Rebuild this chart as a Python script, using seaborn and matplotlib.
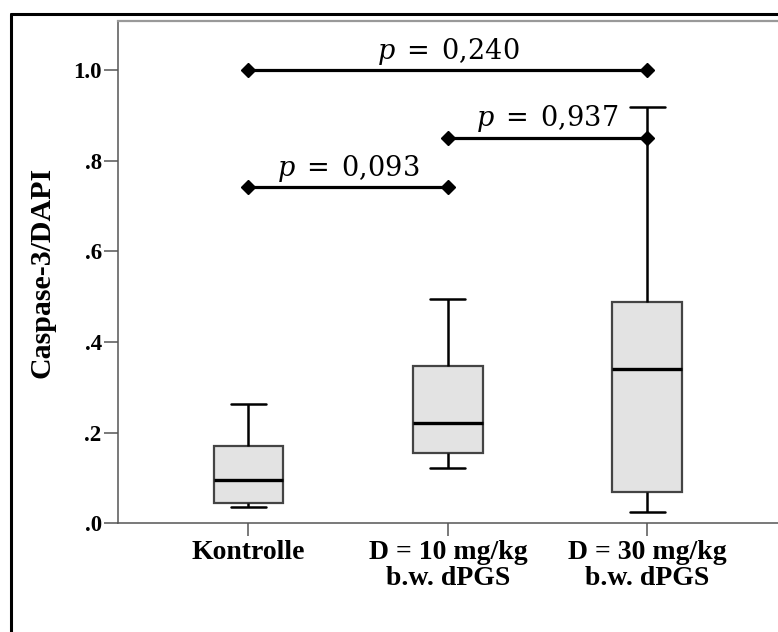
import matplotlib
matplotlib.use("Agg")
import matplotlib.pyplot as plt
import seaborn as sns
import pandas as pd
from matplotlib.lines import Line2D

# ---- data (five-number summaries) ----
groups = ["Kontrolle", "D = 10 mg/kg\nb.w. dPGS", "D = 30 mg/kg\nb.w. dPGS"]
whisker_low = [0.035, 0.122, 0.024]
q1 = [0.045, 0.156, 0.068]
median = [0.096, 0.222, 0.340]
q3 = [0.171, 0.347, 0.489]
whisker_high = [0.264, 0.495, 0.919]

# significance brackets: (group a, group b, height, p text)
bracket_a = [0, 1, 0]
bracket_b = [2, 2, 1]
bracket_y = [1.0, 0.851, 0.741]
bracket_p = ["0{,}240", "0{,}937", "0{,}093"]

yticks = [0.0, 0.2, 0.4, 0.6, 0.8, 1.0]
ytick_labels = [".0", ".2", ".4", ".6", ".8", "1.0"]

rows = []
for g, a, b, c, d, e in zip(groups, whisker_low, q1, median, q3, whisker_high):
    for v in (a, b, c, d, e):
        rows.append({"group": g, "value": v})
df = pd.DataFrame(rows)

sns.set_style("white")
plt.rcParams["mathtext.fontset"] = "dejavuserif"
plt.rcParams["text.color"] = "black"

fig = plt.figure(figsize=(7.78, 6.32), dpi=100)
L, R, T, B = 117.7, 778.0, 20.7, 523.3
W, H = 778.0, 632.0
ax = fig.add_axes([L / W, 1 - B / H, (R - L) / W, (B - T) / H])

sns.boxplot(data=df, x="group", y="value", order=groups, ax=ax,
            width=0.35, whis=(0, 100), color="#e3e3e3", linecolor="#444444",
            linewidth=1.6, saturation=1,
            medianprops=dict(color="black", linewidth=2.4),
            whiskerprops=dict(color="black", linewidth=1.8),
            capprops=dict(color="black", linewidth=1.8))

ax.set_xlim(-0.656, 2.656)
ax.set_ylim(0, (B - T) / 453.3)

for a, b, y, p in zip(bracket_a, bracket_b, bracket_y, bracket_p):
    ax.plot([a, b], [y, y], color="black", lw=2.3, marker="D", ms=7,
            solid_capstyle="butt", zorder=5)
    ax.text((a + b) / 2, y + 0.025, r"$p\;=\;" + p + "$", ha="center",
            va="baseline", fontsize=19.5, color="black",
            family="DejaVu Serif", zorder=6)

ax.set_yticks(yticks)
ax.set_yticklabels(ytick_labels, family="Liberation Serif", fontweight="bold",
                   fontsize=16.5, color="black")
ax.set_xticks(range(len(groups)))
ax.set_xticklabels(groups, family="Liberation Serif", fontweight="bold",
                   fontsize=20, linespacing=1.05, color="black")
ax.tick_params(axis="y", direction="out", length=10, width=1.1,
               color="#555555", pad=1.5, left=True)
ax.tick_params(axis="x", direction="out", length=9.4, width=1.1,
               color="#555555", pad=2.5, bottom=True)

ax.set_xlabel("")
ax.set_ylabel("Caspase-3/DAPI", family="Liberation Serif", fontweight="bold",
              fontsize=21.5, labelpad=13, color="black")

for s in ["left", "bottom"]:
    ax.spines[s].set_color("#555555")
    ax.spines[s].set_linewidth(1.1)
ax.spines["top"].set_color("#999999")
ax.spines["top"].set_linewidth(1.6)
ax.spines["right"].set_visible(False)

# outer frame (left and top edges visible)
fx = 11 / W
fy = 1 - 14 / H
fig.add_artist(Line2D([fx, fx], [0, fy], transform=fig.transFigure,
                      color="black", lw=2.2))
fig.add_artist(Line2D([fx, 1.0], [fy, fy], transform=fig.transFigure,
                      color="black", lw=2.2))

fig.savefig("out.png", dpi=100)
